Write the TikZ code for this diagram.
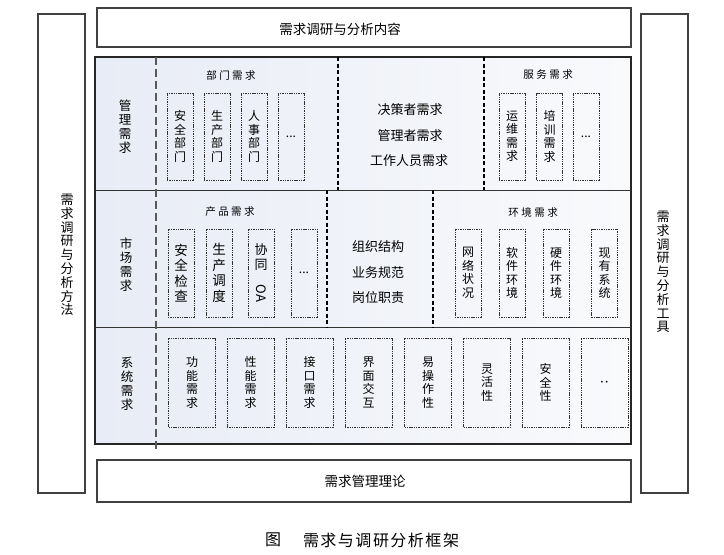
\documentclass[tikz,border=0pt]{standalone}
\usepackage{fontspec}
\usepackage{graphicx}
\newfontfamily\cjk{Noto Sans CJK SC}
\definecolor{bgL}{RGB}{232,236,246}
\definecolor{bgR}{RGB}{249,250,252}
\begin{document}
\begin{tikzpicture}[x=1pt,y=-1pt,
  frame/.style={draw=black!75, line width=1.1pt},
  ibox/.style={draw=black!80, line width=0.9pt, dash pattern=on 1.4pt off 0.9pt, inner sep=0pt, align=center, font=\cjk\fontsize{12}{13.5}\selectfont},
  nbox/.style={ibox, minimum width=26pt, minimum height=87pt},
  wbox/.style={ibox, minimum width=47pt, minimum height=89pt},
  vt/.style={align=center, inner sep=0pt, font=\cjk\fontsize{12.5}{14}\selectfont},
  ht/.style={inner sep=0pt, font=\cjk\fontsize{13}{15}\selectfont},
  head/.style={inner sep=0pt, font=\cjk\fontsize{10.5}{12}\selectfont},
  sep/.style={draw=black, line width=1.6pt, dash pattern=on 4pt off 2.5pt},
  lsep/.style={draw=black!65, line width=1.3pt, dash pattern=on 8pt off 4pt}]
\useasboundingbox (0,0) rectangle (724,555);

% side frames
\draw[frame] (38,14) rectangle (85,493);
\node[vt, font=\cjk\fontsize{13}{13.8}\selectfont] (lt) at (67,255) {需\\求\\调\\研\\与\\分\\析\\方\\法};
\draw[frame] (641,14) rectangle (688,493);
\node[vt, font=\cjk\fontsize{13}{13.8}\selectfont] (rt) at (663,272) {需\\求\\调\\研\\与\\分\\析\\工\\具};

% top and bottom frames
\draw[frame] (97,8) rectangle (631,47);
\node[ht, font=\cjk\fontsize{13.5}{15}\selectfont] (tt) at (340,29) {需求调研与分析内容};
\draw[frame] (97,460) rectangle (631,502);
\node[ht, font=\cjk\fontsize{13.5}{15}\selectfont] (bt) at (365,481) {需求管理理论};

% main frame
\shade[left color=bgL, right color=bgR] (95,57) rectangle (631,444);
\draw[frame, draw=black!85] (95,57) rectangle (631,444);
\draw[line width=1pt, black!80] (95,190) -- (631,190);
\draw[line width=1pt, black!80] (95,327) -- (631,327);

% dashed separators
\coordinate (l1) at (156,57); \coordinate (l2) at (156,450);
\draw[lsep] (l1) -- (l2);
\coordinate (a1) at (338,57); \coordinate (a2) at (338,190);
\draw[sep] (a1) -- (a2);
\coordinate (c1) at (484,57); \coordinate (c2) at (484,190);
\draw[sep] (c1) -- (c2);
\coordinate (d1) at (327,190); \coordinate (d2) at (327,327);
\draw[sep] (d1) -- (d2);
\coordinate (e1) at (433,190); \coordinate (e2) at (433,327);
\draw[sep] (e1) -- (e2);

% row labels
\node[vt] (r1) at (125,127) {管\\理\\需\\求};
\node[vt] (r2) at (126,265) {市\\场\\需\\求};
\node[vt] (r3) at (127,384) {系\\统\\需\\求};

% row 1
\node[head] (h1) at (231,75) {部\hspace{2.5pt}门\hspace{2.5pt}需\hspace{2.5pt}求};
\node[nbox] (b11) at (180,136.5) {安\\全\\部\\门};
\node[nbox] (b12) at (217,136.5) {生\\产\\部\\门};
\node[nbox] (b13) at (254,136.5) {人\\事\\部\\门};
\node[nbox] (b14) at (291,136.5) {...};
\node[ht] (m11) at (410,110) {决策者需求};
\node[ht] (m12) at (410,136) {管理者需求};
\node[ht] (m13) at (409,161) {工作人员需求};
\node[head] (h2) at (548,75) {服\hspace{2.5pt}务\hspace{2.5pt}需\hspace{2.5pt}求};
\node[nbox] (b15) at (512,136.5) {运\\维\\需\\求};
\node[nbox] (b16) at (549.5,136.5) {培\\训\\需\\求};
\node[nbox] (b17) at (586,136.5) {...};

% row 2
\node[head] (h3) at (230,212) {产\hspace{2.5pt}品\hspace{2.5pt}需\hspace{2.5pt}求};
\node[nbox, minimum height=88pt, font=\cjk\fontsize{13.5}{15.5}\selectfont] (b21) at (181,273) {安\\全\\检\\查};
\node[nbox, minimum height=88pt, font=\cjk\fontsize{13.5}{15.5}\selectfont] (b22) at (219,273) {生\\产\\调\\度};
\node[nbox, minimum height=88pt, font=\cjk\fontsize{13}{15}\selectfont] (b23) at (261,273) {协\\同\\\rotatebox{-90}{OA}};
\node[nbox, minimum height=88pt] (b24) at (304,273) {...};
\node[ht] (m21) at (378,247) {组织结构};
\node[ht] (m22) at (378,273) {业务规范};
\node[ht] (m23) at (378,298) {岗位职责};
\node[head] (h4) at (533,212) {环\hspace{2.5pt}境\hspace{2.5pt}需\hspace{2.5pt}求};
\node[nbox, minimum height=88pt] (b25) at (468,273) {网\\络\\状\\况};
\node[nbox, minimum height=88pt] (b26) at (512,273) {软\\件\\环\\境};
\node[nbox, minimum height=88pt] (b27) at (556,273) {硬\\件\\环\\境};
\node[nbox, minimum height=88pt] (b28) at (604.5,273) {现\\有\\系\\统};

% row 3
\node[wbox] (b31) at (192,382.5) {功\\能\\需\\求};
\node[wbox] (b32) at (250.5,382.5) {性\\能\\需\\求};
\node[wbox] (b33) at (309.5,382.5) {接\\口\\需\\求};
\node[wbox] (b34) at (368.5,382.5) {界\\面\\交\\互};
\node[wbox] (b35) at (428,382.5) {易\\操\\作\\性};
\node[wbox] (b36) at (487,382.5) {灵\\活\\性};
\node[wbox] (b37) at (545.5,382.5) {安\\全\\性};
\node[wbox, font=\fontsize{16}{16}\selectfont] (b38) at (604.5,382.5) {$\cdot\cdot$};

% caption
\node[ht, font=\cjk\fontsize{16}{18}\selectfont] (cap1) at (273,540) {图};
\node[ht, font=\cjk\fontsize{16}{18}\selectfont] (cap2) at (381,540) {需\hspace{1.5pt}求\hspace{1.5pt}与\hspace{1.5pt}调\hspace{1.5pt}研\hspace{1.5pt}分\hspace{1.5pt}析\hspace{1.5pt}框\hspace{1.5pt}架};
\end{tikzpicture}
\end{document}
